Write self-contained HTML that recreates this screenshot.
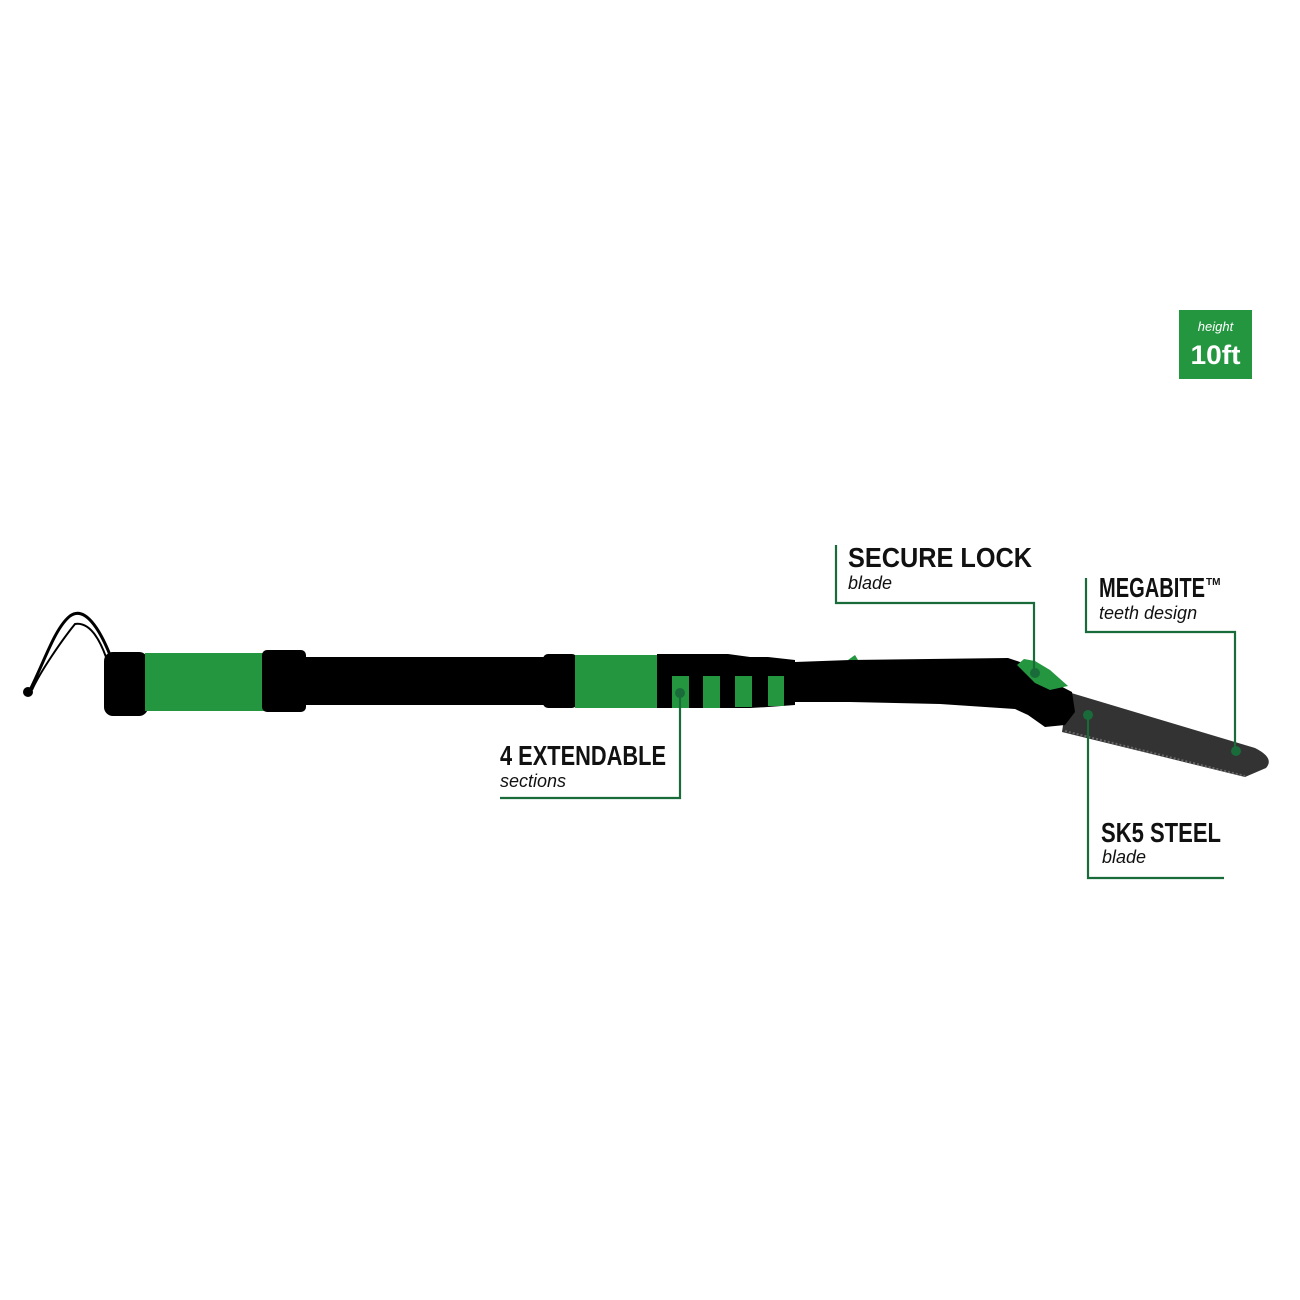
<!DOCTYPE html>
<html><head><style>html,body{margin:0;padding:0;background:#fff;}svg{display:block}</style></head>
<body>
<svg width="1300" height="1300" viewBox="0 0 1300 1300" xmlns="http://www.w3.org/2000/svg">
<rect width="1300" height="1300" fill="#fff"/>
<!-- lanyard -->
<path d="M110,655 C100,630 85,605 70,616 C55,628 45,660 30,690" fill="none" stroke="#000" stroke-width="3"/>
<path d="M106,657 C98,635 88,622 75,624 C62,640 40,672 32,690" fill="none" stroke="#000" stroke-width="2"/>
<circle cx="28" cy="692" r="5" fill="#000"/>
<!-- handle -->
<rect x="104" y="652" width="44" height="64" rx="9" fill="#000"/>
<rect x="145" y="653" width="122" height="58" fill="#23963f"/>
<rect x="262" y="650" width="44" height="62" rx="5" fill="#000"/>
<rect x="304" y="657" width="245" height="48" fill="#000"/>
<rect x="543" y="654" width="34" height="54" rx="5" fill="#000"/>
<rect x="575" y="655" width="84" height="53" fill="#23963f"/>
<path d="M657,654 L728,654 L750,657 L768,657 L795,660 L795,705 L768,707 L750,708 L657,708 Z" fill="#000"/>
<rect x="672" y="676" width="17" height="32" fill="#23963f"/>
<rect x="703" y="676" width="17" height="32" fill="#23963f"/>
<rect x="735" y="676" width="17" height="31" fill="#23963f"/>
<rect x="768" y="676" width="16" height="30" fill="#23963f"/>
<!-- blade -->
<path d="M1068,692 L1255,748 Q1275,758 1266,768 L1245,777 L1062,732 Z" fill="#333"/>
<path d="M1065,731 L1245,776" stroke="#666" stroke-width="2" stroke-dasharray="2 2" fill="none"/>
<!-- grip -->
<path d="M795,662 L850,660 L1008,658 L1020,662 L1045,678 L1072,692 L1075,712 L1065,725 L1045,727 L1028,715 L1015,709 L940,704 L850,702 L795,702 Z" fill="#000"/>
<path d="M848,660 L855,655 L858,660 Z" fill="#23963f"/>
<path d="M1017,665 L1024,659 L1035,661 L1050,670 L1068,686 L1050,690 L1035,683 Z" fill="#23963f"/>
<!-- connectors -->
<g stroke="#1a6b3a" stroke-width="2.2" fill="none">
<polyline points="836,545 836,603 1034,603 1034,673"/>
<polyline points="1086,578 1086,632 1235,632 1235,751"/>
<polyline points="1088,715 1088,878 1224,878"/>
<polyline points="680,693 680,798 500,798"/>
</g>
<g fill="#1a6b3a">
<circle cx="1035" cy="673" r="5"/>
<circle cx="1236" cy="751" r="5"/>
<circle cx="1088" cy="715" r="5"/>
<circle cx="680" cy="693" r="5"/>
</g>
<!-- labels -->
<g font-family="'Liberation Sans Narrow','Liberation Sans',sans-serif" font-weight="bold" fill="#111" font-size="28">
<text x="848" y="567" textLength="184" lengthAdjust="spacingAndGlyphs">SECURE LOCK</text>
<text x="1099" y="597" textLength="106" lengthAdjust="spacingAndGlyphs">MEGABITE</text>
<text x="500" y="765" textLength="166" lengthAdjust="spacingAndGlyphs">4 EXTENDABLE</text>
<text x="1101" y="842" textLength="120" lengthAdjust="spacingAndGlyphs">SK5 STEEL</text>
</g>
<text x="1206" y="585" font-family="'Liberation Sans',sans-serif" font-weight="bold" font-size="10" fill="#111">TM</text>
<g font-family="'Liberation Sans',sans-serif" font-style="italic" fill="#111" font-size="18">
<text x="848" y="589">blade</text>
<text x="1099" y="619">teeth design</text>
<text x="500" y="787">sections</text>
<text x="1102" y="863">blade</text>
</g>
<!-- height box -->
<rect x="1179" y="310" width="73" height="69" fill="#23963f"/>
<text x="1215.5" y="331" text-anchor="middle" font-family="'Liberation Sans',sans-serif" font-style="italic" font-size="13" fill="#fff">height</text>
<text x="1215.5" y="364" text-anchor="middle" font-family="'Liberation Sans Narrow','Liberation Sans',sans-serif" font-weight="bold" font-size="27" fill="#fff" textLength="50" lengthAdjust="spacingAndGlyphs">10ft</text>
</svg>
</body></html>
